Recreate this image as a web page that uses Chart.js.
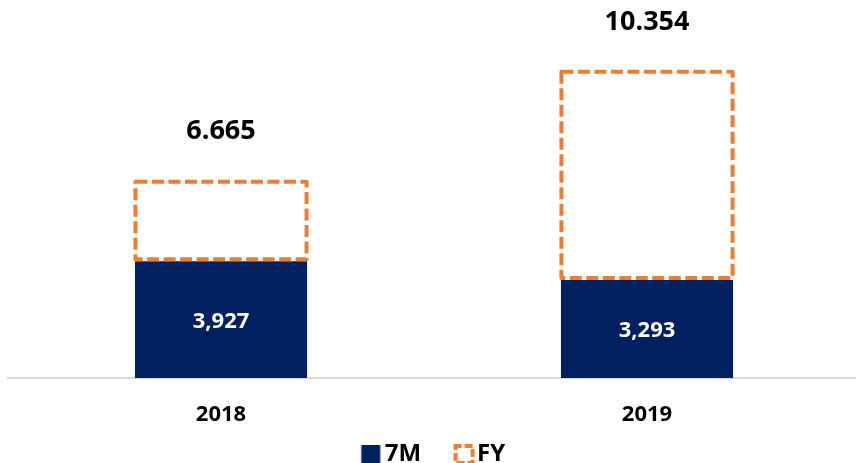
<!DOCTYPE html>
<html>
<head>
<meta charset="utf-8">
<script src="https://cdn.jsdelivr.net/npm/chart.js@4/dist/chart.umd.min.js"></script>
<style>
  html, body { margin: 0; padding: 0; background: #fff; overflow: hidden; }
  #wrap { width: 860px; height: 463px; position: relative; }
</style>
</head>
<body>
<div id="wrap"><canvas id="c"></canvas></div>
<script>
const categories = ['2018', '2019'];
const sevenMonths = [3.927, 3.293];
const fullYear = [6.665, 10.354];
const sevenMonthLabels = ['3,927', '3,293'];
const fullYearLabels = ['6.665', '10.354'];
const seriesNames = ['7M', 'FY'];

const NAVY = '#002060';
const ORANGE = '#ED7D31';
const FONT = "'Open Sans', 'Liberation Sans', sans-serif";

const fyRemainder = fullYear.map((v, i) => v - sevenMonths[i]);

// legend icons: drawn into canvases placed so the square sits just left of the text
const B = 30;
function makeNavyIcon() {
  const c = document.createElement('canvas');
  c.width = B + 20; c.height = 18;
  const g = c.getContext('2d');
  g.fillStyle = NAVY;
  g.fillRect(c.width - 2.5 - 19, 0, 19, 18);
  return c;
}
function makeFyIcon() {
  const c = document.createElement('canvas');
  c.width = B + 20; c.height = 21;
  const g = c.getContext('2d');
  g.strokeStyle = ORANGE;
  g.lineWidth = 4;
  g.setLineDash([8, 3]);
  g.lineDashOffset = 2;
  g.strokeRect(c.width - 0.5 - 19, 2, 17, 17);
  return c;
}
const icons = [makeNavyIcon(), makeFyIcon()];

const labelPlugin = {
  id: 'labelPlugin',
  afterLayout(chart) {
    if (chart.legend) { chart.legend.left -= 10; chart.legend.right -= 10; }
  },
  afterDatasetsDraw(chart) {
    const ctx = chart.ctx;
    const m0 = chart.getDatasetMeta(0);
    const m1 = chart.getDatasetMeta(1);
    ctx.save();
    // dashed FY outlines
    m1.data.forEach((bar) => {
      const p = bar.getProps(['x', 'y', 'base', 'width'], true);
      const left = p.x - p.width / 2, right = p.x + p.width / 2;
      ctx.strokeStyle = ORANGE;
      ctx.lineWidth = 4;
      ctx.setLineDash([12, 4.5]);
      ctx.lineJoin = 'round';
      ctx.strokeRect(left + 0.5, p.y + 2, right - left - 1, p.base - p.y - 4);
    });
    ctx.setLineDash([]);
    // 7M labels
    ctx.textAlign = 'center';
    ctx.textBaseline = 'middle';
    m0.data.forEach((bar, i) => {
      const p = bar.getProps(['x', 'y', 'base'], true);
      ctx.fillStyle = '#ffffff';
      ctx.font = 'bold 22px ' + FONT;
      ctx.fillText(sevenMonthLabels[i], p.x, (p.y + p.base) / 2 + 2);
    });
    // FY totals
    m1.data.forEach((bar, i) => {
      const p = bar.getProps(['x', 'y'], true);
      ctx.fillStyle = '#000000';
      ctx.font = 'bold 27px ' + FONT;
      ctx.fillText(fullYearLabels[i], p.x, p.y - 48);
    });
    ctx.restore();
  }
};

new Chart(document.getElementById('c'), {
  type: 'bar',
  data: {
    labels: categories,
    datasets: [
      {
        label: seriesNames[0],
        data: sevenMonths,
        backgroundColor: NAVY,
        borderWidth: 0,
        categoryPercentage: 0.8,
        barPercentage: 0.505
      },
      {
        label: seriesNames[1],
        data: fyRemainder,
        backgroundColor: 'rgba(0,0,0,0)',
        borderWidth: 0,
        categoryPercentage: 0.8,
        barPercentage: 0.505
      }
    ]
  },
  options: {
    responsive: true,
    maintainAspectRatio: false,
    animation: false,
    layout: { padding: { left: 8, right: 0, top: 6, bottom: -13.4 } },
    scales: {
      x: {
        stacked: true,
        grid: { display: false, drawTicks: false },
        border: { display: true, color: '#D9D9D9', width: 2 },
        ticks: {
          color: '#000',
          font: { family: FONT, weight: 'bold', size: 22 },
          padding: 24
        },
        afterFit(scale) { scale.height = 50.4; }
      },
      y: {
        stacked: true,
        display: false,
        min: 0,
        max: 12.5
      }
    },
    plugins: {
      tooltip: { enabled: false },
      legend: {
        position: 'bottom',
        labels: {
          usePointStyle: true,
          pointStyleWidth: B,
          generateLabels(chart) {
            return chart.data.datasets.map((ds, i) => ({
              text: ds.label,
              pointStyle: icons[i],
              fillStyle: 'transparent',
              strokeStyle: 'transparent',
              lineWidth: 0,
              hidden: false,
              datasetIndex: i,
              fontColor: '#000'
            }));
          },
          color: '#000',
          font: { family: FONT, weight: 'bold', size: 24 },
          boxHeight: 20,
          padding: 14
        }
      }
    }
  },
  plugins: [labelPlugin]
});
</script>
</body>
</html>
